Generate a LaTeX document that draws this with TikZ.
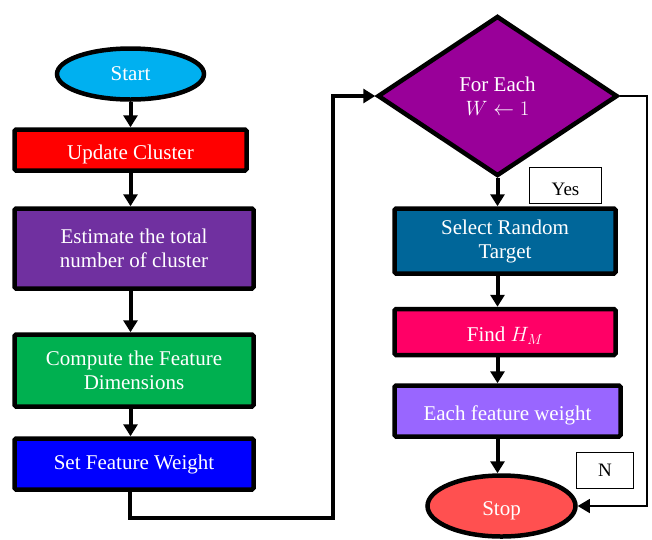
\documentclass[tikz,border=0pt]{standalone}
\usepackage{fontspec}
\setmainfont{Liberation Serif}
\usetikzlibrary{shapes.geometric,arrows.meta}

\definecolor{startcyan}{HTML}{00B0F0}
\definecolor{updred}{HTML}{FF0000}
\definecolor{estpurple}{HTML}{7030A0}
\definecolor{compgreen}{HTML}{00B050}
\definecolor{setblue}{HTML}{0000FF}
\definecolor{diapurple}{HTML}{990099}
\definecolor{selblue}{HTML}{006699}
\definecolor{findpink}{HTML}{FF0066}
\definecolor{eachviolet}{HTML}{9966FF}
\definecolor{stopred}{HTML}{FF5050}

\begin{document}
\begin{tikzpicture}[
			x=1pt, y=-1pt,
			terminal/.style={ellipse, draw, line width=4.5pt, inner sep=0pt, text=white, font=\fontsize{21}{24}\selectfont},
			process/.style={rectangle, draw, line width=4.5pt, rounded corners=1.5pt, align=center, text=white, font=\fontsize{21}{24}\selectfont},
			decision/.style={diamond, draw, line width=4.5pt, inner sep=0pt, align=center, text=white, font=\fontsize{21}{24}\selectfont},
			tag/.style={rectangle, draw, line width=0.8pt, fill=white, font=\fontsize{19}{22}\selectfont},
			low/.style={text height=22pt, text depth=3pt},
			flow/.style={line width=4pt, -{Triangle[width=14pt, length=12pt]}},
			back/.style={line width=1.2pt, -{Triangle[width=14pt, length=12pt]}},
		]
		\useasboundingbox (0,0) rectangle (652,539);

		% left column
		\node[terminal, fill=startcyan, minimum width=147pt, minimum height=51pt] (start) at (130.5,74) {Start};
		\node[process, low, fill=updred, minimum width=232pt, minimum height=41pt] (update) at (130.5,150) {Update Cluster};
		\node[process, fill=estpurple, minimum width=239pt, minimum height=80pt] (estimate) at (134,248.5) {Estimate the total\\number of cluster};
		\node[process, fill=compgreen, minimum width=239pt, minimum height=72pt] (compute) at (134,370.5) {Compute the Feature\\Dimensions};
		\node[process, fill=setblue, minimum width=239pt, minimum height=51pt] (setw) at (134,464) {Set Feature Weight};

		% right column
		\node[decision, fill=diapurple, minimum width=240pt, minimum height=160pt] (dia) at (497.5,96) {For Each\\$W \leftarrow 1$};
		\node[process, fill=selblue, minimum width=221pt, minimum height=65pt] (select) at (505,241) {Select Random\\Target};
		\node[process, low, fill=findpink, minimum width=221pt, minimum height=46pt] (find) at (505,332) {Find $H_M$};
		\node[process, low, fill=eachviolet, minimum width=226pt, minimum height=51pt] (each) at (507.5,411) {Each feature weight};
		\node[terminal, low, fill=stopred, minimum width=148pt, minimum height=61pt] (stop) at (501.5,506) {Stop};

		\node[tag, low, minimum width=72pt, minimum height=36pt] (yes) at (565.5,185.5) {Yes};
		\node[tag, minimum width=57pt, minimum height=36pt] (no) at (605,470) {N};

		\coordinate (low) at (130,518);
		\coordinate (mid) at (333,518);
		\coordinate (midtop) at (333,96);
		\coordinate (rtop) at (647,96);

		\draw[flow] (start.south) -- (start.south |- update.north);
		\draw[flow] (update.south) -- (update.south |- estimate.north);
		\draw[flow] (estimate.south -| update.south) -- (compute.north -| update.south);
		\draw[flow] (compute.south -| update.south) -- (setw.north -| update.south);
		\draw[flow] (setw.south -| low) -- (low) -- (mid) -- (midtop) -- (dia.west);

		\draw[flow] (dia.south) -- (dia.south |- select.north);
		\draw[flow] (select.south -| dia.south) -- (find.north -| dia.south);
		\draw[flow] (find.south -| dia.south) -- (each.north -| dia.south);
		\draw[flow] (each.south -| dia.south) -- (stop.north -| dia.south);
		\draw[back] (dia.east) -- (rtop) -- (rtop |- stop.east) -- (stop.east);
	\end{tikzpicture}
\end{document}
